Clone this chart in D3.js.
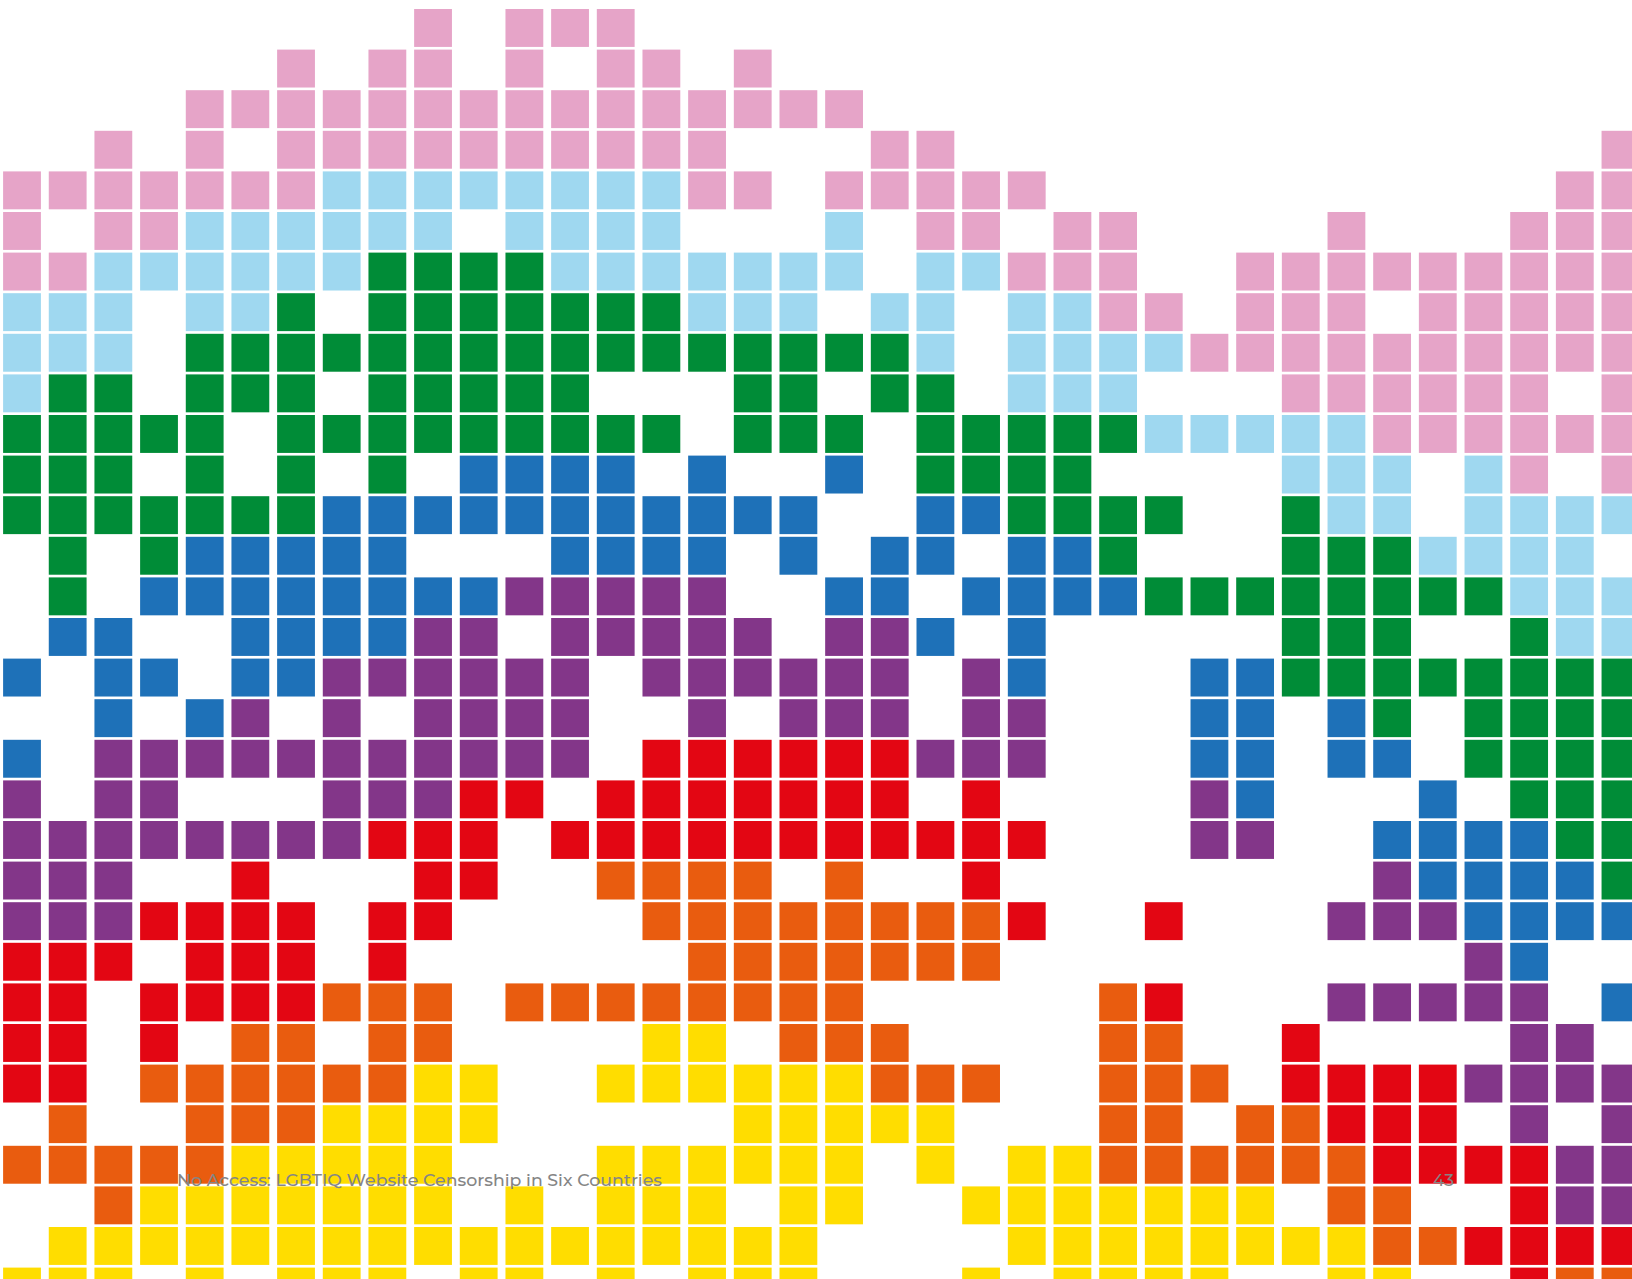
<!DOCTYPE html>
<html>
<head>
<meta charset="utf-8">
<script src="https://cdn.jsdelivr.net/npm/d3@7"></script>
<style>
  body { margin: 0; background: #fff; }
  svg  { display: block; }
</style>
</head>
<body>
<svg id="chart"></svg>
<script>
// rainbow tile wall — one letter per tile, '.' = no tile
// P pink, L light blue, G green, B blue, V violet, R red, O orange, Y yellow
const CATEGORIES = ['P', 'L', 'G', 'B', 'V', 'R', 'O', 'Y'];
const CATEGORY_COLORS = ['#e6a4c8', '#9fd8f0', '#008c37', '#1e71b8', '#833689', '#e30613', '#e95c0f', '#ffdd00'];

const GRID_ROWS = [
    '.........P.PPP......................',
    '......P.PP.P.PP.P...................',
    '....PPPPPPPPPPPPPPP.................',
    '..P.P.PPPPPPPPPP...PP..............P',
    'PPPPPPPLLLLLLLLPP.PPPPP...........PP',
    'P.PPLLLLLL.LLLL...L.PP.PP....P...PPP',
    'PPLLLLLLGGGGLLLLLLL.LLPPP..PPPPPPPPP',
    'LLL.LLG.GGGGGGGLLL.LL.LLPP.PPP.PPPPP',
    'LLL.GGGGGGGGGGGGGGGGL.LLLLPPPPPPPPPP',
    'LGG.GGG.GGGGG...GG.GG.LLL...PPPPPP.P',
    'GGGGG.GGGGGGGGG.GGG.GGGGGLLLLLPPPPPP',
    'GGG.G.G.G.BBBB.B..B.GGGG....LLL.LP.P',
    'GGGGGGGBBBBBBBBBBB..BBGGGG..GLL.LLLL',
    '.G.GBBBBB...BBBB.B.BB.BBG...GGGLLLL.',
    '.G.BBBBBBBBVVVVV..BB.BBBBGGGGGGGGLLL',
    '.BB..BBBBVV.VVVVV.VVB.B.....GGG..GLL',
    'B.BB.BBVVVVVV.VVVVVV.VB...BBGGGGGGGG',
    '..B.BV.V.VVVV..V.VVV.VV...BB.BG.GGGG',
    'B.VVVVVVVVVVV.RRRRRRVVV...BB.BB.GGGG',
    'V.VV...VVVRR.RRRRRRR.R....VB...B.GGG',
    'VVVVVVVVRRR.RRRRRRRRRRR...VV..BBBBGG',
    'VVV..R...RR..OOOO.O..R........VBBBBG',
    'VVVRRRR.RR....OOOOOOOOR..R...VVVBBBB',
    'RRR.RRR.R......OOOOOOO..........VB..',
    'RR.RRRROOO.OOOOOOOO.....OR...VVVVV.B',
    'RR.R.OO.OO....YY.OOO....OO..R....VV.',
    'RR.OOOOOOYY..YYYYYYOOO..OOO.RRRRVVVV',
    '.O..OOOYYYY.....YYYYY...OO.OORRR.V.V',
    'OOOOOYYYYY...YYYYYY.Y.YYOOOOOORRRRVV',
    '..OYYYYYYY.Y.YYY.YY..YYYYYYY.OO..RVV',
    '.YYYYYYYYYYYYYYYYY....YYYYYYYYOORRRR',
    'YYY.Y.YYY.YY.Y.YYY...Y.YYYY..YY..ROO',
];

const FOOTER_TITLE = 'No Access: LGBTIQ Website Censorship in Six Countries';
const PAGE_NUMBER  = '43';

// ── Canvas ────────────────────────────────────────────────────────────────
const W = 1632, H = 1279;
const svg = d3.select('#chart')
    .attr('width', W)
    .attr('height', H)
    .attr('viewBox', `0 0 ${W} ${H}`);

svg.append('rect').attr('width', W).attr('height', H).attr('fill', '#fff');

// ── Scales — wide gaps between columns, thin gaps between rows ───────────
const nCols = GRID_ROWS[0].length;
const nRows = GRID_ROWS.length;

const COL_STEP = 45.67, ROW_STEP = 40.6;
const COL_PAD = 0.172, ROW_PAD = 0.066;

const x = d3.scaleBand()
    .domain(d3.range(nCols))
    .range([3.1, 3.1 + nCols * COL_STEP - COL_STEP * COL_PAD])
    .paddingInner(COL_PAD);

const y = d3.scaleBand()
    .domain(d3.range(nRows))
    .range([9, 9 + nRows * ROW_STEP - ROW_STEP * ROW_PAD])
    .paddingInner(ROW_PAD);

const color = d3.scaleOrdinal().domain(CATEGORIES).range(CATEGORY_COLORS);

// flatten grid into tiles
const tiles = [];
GRID_ROWS.forEach((row, r) => {
    row.split('').forEach((k, c) => {
        if (k !== '.') tiles.push({ r, c, k });
    });
});

svg.append('g')
    .selectAll('rect')
    .data(tiles)
    .join('rect')
    .attr('x', d => x(d.c))
    .attr('y', d => y(d.r))
    .attr('width', x.bandwidth())
    .attr('height', y.bandwidth())
    .attr('fill', d => color(d.k));

// ── Footer text sits on top of the tiles ─────────────────────────────────
const footer = svg.append('g')
    .attr('font-family', 'Montserrat, Lato, "Open Sans", sans-serif')
    .attr('fill', '#858585')
    .attr('font-weight', 500)
    .attr('font-size', '17px');

footer.append('text')
    .attr('x', 177)
    .attr('y', 1186)
    .attr('textLength', 485)
    .attr('lengthAdjust', 'spacingAndGlyphs')
    .text(FOOTER_TITLE);

footer.append('text')
    .attr('x', 1433)
    .attr('y', 1186)
    .text(PAGE_NUMBER);
</script>
</body>
</html>
